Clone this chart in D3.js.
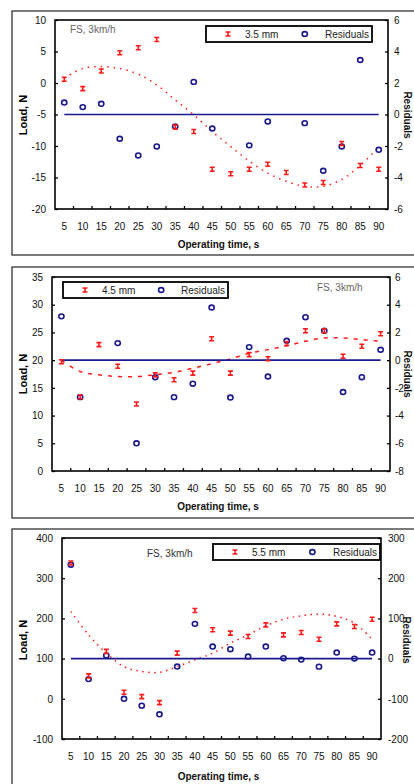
<!DOCTYPE html>
<html>
<head>
<meta charset="utf-8">
<script src="https://cdn.jsdelivr.net/npm/d3@7"></script>
<style>
body { margin: 0; background: #fff; }
text { font-family: "Liberation Sans", Arial, sans-serif; }
</style>
</head>
<body>
<div class="content"></div>
<script>
var times = [5, 10, 15, 20, 25, 30, 35, 40, 45, 50, 55, 60, 65, 70, 75, 80, 85, 90];

// 3.5 mm
var load35 = [0.6, -0.9, 1.9, 4.8, 5.6, 6.9, -7.0, -7.7, -13.7, -14.4, -13.7, -12.9, -14.2, -16.2, -15.8, -9.6, -13.1, -13.7];
var resid35 = [0.76, 0.47, 0.68, -1.54, -2.6, -2.03, -0.76, 2.07, -0.89, null, -1.96, -0.44, null, -0.55, -3.57, -2.03, 3.46, -2.24];
var fit35 = [0.75, 2.3, 2.6, 2.3, 1.4, -0.3, -2.7, -5.05, -7.7, -10.1, -12.4, -14.3, -15.6, -16.4, -16.4, -15.3, -13.1, -10.1];
var load35Ticks = [-20, -15, -10, -5, 0, 5, 10];
var resid35Ticks = [-6, -4, -2, 0, 2, 4, 6];

// 4.5 mm
var load45 = [19.7, 13.4, 22.8, 18.9, 12.1, 17.35, 16.45, 17.65, 23.85, 17.65, 21.0, 20.25, 23.0, 25.3, 25.3, 20.7, 22.5, 24.75];
var resid45 = [3.16, -2.67, null, 1.23, -6.0, -1.23, -2.67, -1.7, 3.8, -2.7, 0.94, -1.18, 1.4, 3.1, 2.12, -2.3, -1.23, 0.75];
var fit45 = [19.94, 17.95, 17.35, 17.05, 17.05, 17.35, 17.8, 18.55, 19.35, 20.2, 21.25, 21.9, 22.6, 23.4, 24.0, 24.0, 23.7, 23.4];
var load45Ticks = [0, 5, 10, 15, 20, 25, 30, 35];
var resid45Ticks = [-8, -6, -4, -2, 0, 2, 4, 6];

// 5.5 mm
var load55 = [337.7, 57, 118, 16.3, 5.5, -9.5, 113.5, 219.8, 171.6, 163.3, 155, 184, 159, 165, 148.3, 186.5, 180, 198];
var resid55 = [233.6, -51, 8, -100, -117, -138.5, -19.8, 86.5, 30, 23.4, 5.1, 30, 1, -2.5, -20, 15, 0, 15];
var fit55 = [217, 159, 113.5, 80, 67.8, 66, 80, 97, 113.5, 138.4, 159, 181.6, 198, 206.5, 210.6, 205, 188, 148];
var load55Ticks = [-100, 0, 100, 200, 300, 400];
var resid55Ticks = [-200, -100, 0, 100, 200, 300];

var RED = '#ff1a1a', BLUE = '#1a1a8c';

var svg = d3.select('.content').append('svg').attr('width', 414).attr('height', 784);

function redMark(sel) {
    sel.append('path').attr('d', 'M-2.5,-2H2.5M-2.5,2H2.5M0,-2V2')
        .attr('stroke', RED).attr('stroke-width', 1.6).attr('fill', 'none');
}
function blueMark(sel) {
    sel.append('ellipse').attr('rx', 2.6).attr('ry', 2.4)
        .attr('stroke', BLUE).attr('stroke-width', 1.6).attr('fill', 'none');
}

function drawPanel(p) {
    var g = svg.append('g');
    g.append('rect').attr('x', 12).attr('y', p.box[0]).attr('width', 430).attr('height', p.box[1] - p.box[0])
        .attr('fill', 'none').attr('stroke', '#333').attr('stroke-width', 1.3);

    var x = d3.scaleBand().domain(times).range([p.l, p.r]);
    var y = d3.scaleLinear().domain(p.yDom).range([p.b, p.t]);
    var y2 = d3.scaleLinear().domain(p.y2Dom).range([p.b, p.t]);
    var cx = function (t) { return x(t) + x.bandwidth() / 2; };

    var ya = g.append('g').attr('transform', 'translate(' + p.l + ',0)')
        .call(d3.axisLeft(y).tickValues(p.yTicks).tickSizeInner(-3).tickSizeOuter(0).tickPadding(9).tickFormat(function (d) { return d; }));
    var yb = g.append('g').attr('transform', 'translate(' + p.r + ',0)')
        .call(d3.axisRight(y2).tickValues(p.y2Ticks).tickSizeInner(-3).tickSizeOuter(0).tickPadding(p.rPad).tickFormat(function (d) { return d; }));
    [ya, yb].forEach(function (a) {
        a.select('.domain').remove();
        a.selectAll('line').attr('stroke', '#000').attr('stroke-width', 1.3);
        a.selectAll('text').attr('font-size', 10).attr('fill', '#111');
    });

    // x ticks at band edges, labels at centres
    g.selectAll('.xt').data(times.slice(1)).enter().append('line')
        .attr('x1', function (d) { return x(d); }).attr('x2', function (d) { return x(d); })
        .attr('y1', p.b).attr('y2', p.b - 3).attr('stroke', '#000').attr('stroke-width', 1.3);
    g.selectAll('.xl').data(times).enter().append('text')
        .attr('x', cx).attr('y', p.xLabY).attr('text-anchor', 'middle')
        .attr('font-size', 10).attr('fill', '#111').text(function (d) { return d; });

    g.append('rect').attr('x', p.l).attr('y', p.t).attr('width', p.r - p.l).attr('height', p.b - p.t)
        .attr('fill', 'none').attr('stroke', '#000').attr('stroke-width', 1.6);

    // titles
    g.append('text').attr('x', (p.l + p.r) / 2 - 3).attr('y', p.xTitleY).attr('text-anchor', 'middle')
        .attr('font-size', 10).attr('font-weight', 'bold').attr('fill', '#111').text('Operating time, s');
    g.append('text').attr('transform', 'translate(27,' + p.yTitleY + ') rotate(-90)').attr('text-anchor', 'middle')
        .attr('font-size', 11).attr('font-weight', 'bold').attr('fill', '#000').text('Load, N');
    g.append('text').attr('transform', 'translate(' + p.rTitleX + ',' + p.yTitleY + ') rotate(90)').attr('text-anchor', 'middle')
        .attr('font-size', 10).attr('font-weight', 'bold').attr('fill', '#111').text('Residuals');

    // fit curve
    var line = d3.line().x(function (d, i) { return cx(times[i]); }).y(function (d) { return y(d); }).curve(d3.curveCatmullRom);
    g.append('path').attr('d', line(p.fit)).attr('fill', 'none').attr('stroke', RED)
        .attr('stroke-width', 1.5).attr('stroke-dasharray', p.dash);

    // zero residual line
    g.append('line').attr('x1', cx(times[0])).attr('x2', cx(times[times.length - 1]))
        .attr('y1', y2(0)).attr('y2', y2(0)).attr('stroke', BLUE).attr('stroke-width', 1.6);

    var rs = times.map(function (t, i) { return [t, p.resid[i]]; }).filter(function (d) { return d[1] !== null; });
    g.selectAll('.rm').data(rs).enter().append('g')
        .attr('transform', function (d) { return 'translate(' + cx(d[0]) + ',' + y2(d[1]) + ')'; })
        .call(blueMark);
    var ls = times.map(function (t, i) { return [t, p.load[i]]; });
    g.selectAll('.lm').data(ls).enter().append('g')
        .attr('transform', function (d) { return 'translate(' + cx(d[0]) + ',' + y(d[1]) + ')'; })
        .call(redMark);

    // legend
    var lg = p.leg;
    g.append('rect').attr('x', lg.x).attr('y', lg.y).attr('width', lg.w).attr('height', 16)
        .attr('fill', '#fff').attr('stroke', '#000').attr('stroke-width', 1.8);
    g.append('g').attr('transform', 'translate(' + (lg.x + 22) + ',' + (lg.y + 8) + ')').call(redMark);
    g.append('text').attr('x', lg.x + 39).attr('y', lg.y + 11.5).attr('font-size', 10).attr('fill', '#222').text(p.name);
    g.append('g').attr('transform', 'translate(' + (lg.x + lg.w * 0.595) + ',' + (lg.y + 8) + ')').call(blueMark);
    g.append('text').attr('x', lg.x + lg.w - 3).attr('y', lg.y + 11.5).attr('text-anchor', 'end')
        .attr('font-size', 10).attr('fill', '#222').text('Residuals');

    g.append('text').attr('x', p.note[0]).attr('y', p.note[1]).attr('font-size', 10)
        .attr('fill', p.note[2]).text('FS, 3km/h');
}

drawPanel({
    box: [11, 255], l: 55, t: 20, r: 388, b: 209,
    yDom: [-20, 10], y2Dom: [-6, 6], yTicks: load35Ticks, y2Ticks: resid35Ticks, rPad: 6,
    xLabY: 230, xTitleY: 248, yTitleY: 115, rTitleX: 404,
    load: load35, resid: resid35, fit: fit35, dash: '1.5,5', name: '3.5 mm',
    leg: { x: 206, y: 26, w: 166 }, note: [70, 33, '#666']
});
drawPanel({
    box: [267, 518], l: 52, t: 277, r: 390, b: 471,
    yDom: [0, 35], y2Dom: [-8, 6], yTicks: load45Ticks, y2Ticks: resid45Ticks, rPad: 5,
    xLabY: 492, xTitleY: 510, yTitleY: 374, rTitleX: 404,
    load: load45, resid: resid45, fit: fit45, dash: '4,6', name: '4.5 mm',
    leg: { x: 63, y: 282, w: 165 }, note: [317, 291, '#666']
});
drawPanel({
    box: [529, 800], l: 62, t: 538, r: 381, b: 739,
    yDom: [-100, 400], y2Dom: [-200, 300], yTicks: load55Ticks, y2Ticks: resid55Ticks, rPad: 7,
    xLabY: 760, xTitleY: 780, yTitleY: 640, rTitleX: 403,
    load: load55, resid: resid55, fit: fit55, dash: '1.5,4.5', name: '5.5 mm',
    leg: { x: 213, y: 544, w: 167 }, note: [147, 557, '#333']
});
</script>
</body>
</html>
